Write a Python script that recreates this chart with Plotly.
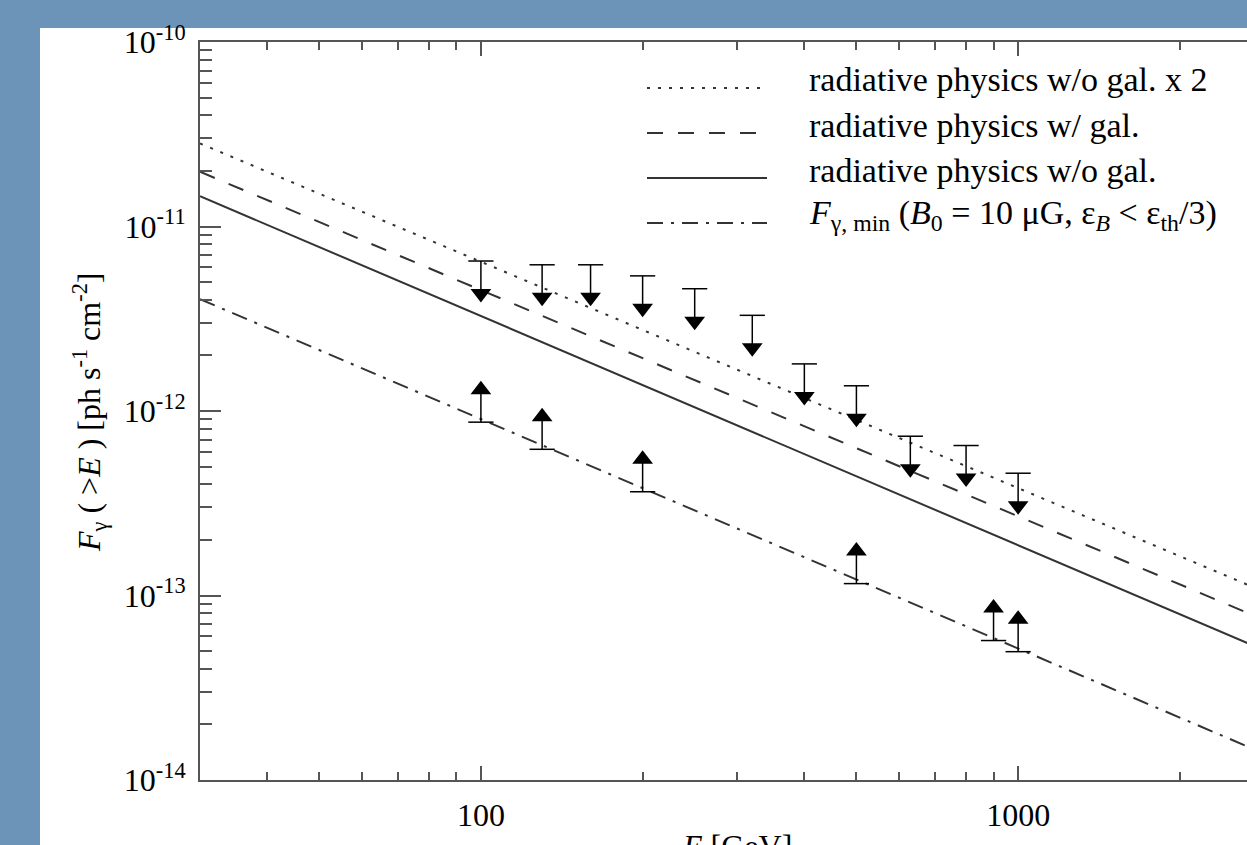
import math
import plotly.graph_objects as go

# ---------------- data ----------------
E_line = [30, 2700]                      # GeV, straight power laws in log-log
F_wo_gal_x2 = [2.82e-11, 1.13e-13]       # dotted
F_w_gal = [1.98e-11, 7.95e-14]           # dashed
F_wo_gal = [1.46e-11, 5.45e-14]          # solid
F_min = [4.04e-12, 1.50e-14]             # dash-dot

series_names = [
    "radiative physics w/o gal. x 2",
    "radiative physics w/ gal.",
    "radiative physics w/o gal.",
    "<i>F</i><sub>γ, min</sub> (<i>B</i><sub>0</sub> = 10 μG, ε<sub><i>B</i></sub> &lt; ε<sub>th</sub>/3)",
]

E_upper = [100, 130, 160, 200, 250, 320, 400, 500, 630, 800, 1000]
F_upper = [6.5e-12, 6.2e-12, 6.2e-12, 5.4e-12, 4.6e-12, 3.3e-12,
           1.8e-12, 1.37e-12, 7.3e-13, 6.5e-13, 4.6e-13]

E_lower = [100, 130, 200, 500, 900, 1000]
F_lower = [8.7e-13, 6.2e-13, 3.65e-13, 1.16e-13, 5.7e-14, 4.96e-14]

x_tickvals = [100, 1000]
x_ticktext = ["100", "1000"]
y_tickvals = [1e-14, 1e-13, 1e-12, 1e-11, 1e-10]
y_ticktext = ["10<sup>-14</sup>", "10<sup>-13</sup>", "10<sup>-12</sup>",
              "10<sup>-11</sup>", "10<sup>-10</sup>"]

x_title = "<i>E</i> [GeV]"
y_title = "<i>F</i><sub>γ</sub> ( &gt;<i>E</i> ) [ph s<sup>-1</sup> cm<sup>-2</sup>]"

# ---------------- styling ----------------
FONT = "Liberation Serif, Times New Roman, serif"
LINE_COL = "#333333"
AX_COL = "#555555"
BLUE = "#6c93b8"
ARROW = 1.5          # arrow stem length as a flux factor (style)

W, H = 1247, 845
L, R, T, B = 200, 0, 42, 65
PW, PH = W - L - R, H - T - B


def px_x(p):
    return (p - L) / PW


def px_y(p):
    return (H - B - p) / PH


fig = go.Figure()

line_specs = [
    (F_wo_gal_x2, "3px,8px"),
    (F_w_gal, "16px,15px"),
    (F_wo_gal, "solid"),
    (F_min, "16px,8px,3px,8px"),
]
for (vals, dash), name in zip(line_specs, series_names):
    fig.add_trace(go.Scatter(
        x=E_line, y=vals, mode="lines", name=name, showlegend=False,
        line=dict(color=LINE_COL, width=2, dash=dash), hoverinfo="skip"))


def arrows(E, F, down):
    sx, sy, hy = [], [], []
    for e, f in zip(E, F):
        end = f / ARROW if down else f * ARROW
        sx += [e, e, None]
        sy += [f, end, None]
        hy.append(end)
    fig.add_trace(go.Scatter(x=sx, y=sy, mode="lines", showlegend=False,
                             line=dict(color="black", width=1.5), hoverinfo="skip"))
    fig.add_trace(go.Scatter(x=E, y=F, mode="markers", showlegend=False,
                             marker=dict(symbol="line-ew", size=18,
                                         line=dict(color="black", width=1.5))))
    fig.add_trace(go.Scatter(x=E, y=hy, mode="markers", showlegend=False,
                             marker=dict(symbol="triangle-down" if down else "triangle-up",
                                         size=18, color="black", line=dict(width=0))))


arrows(E_upper, F_upper, True)
arrows(E_lower, F_lower, False)

# minor tick positions (2..9 per decade)
x_minor = [m * 10 ** d for d in range(1, 4) for m in range(2, 10)]
y_minor = [m * 10.0 ** d for d in range(-14, -10) for m in range(2, 10)]

tickfont = dict(family=FONT, size=32, color="black")

fig.update_xaxes(
    type="log", range=[math.log10(30), math.log10(2667)],
    tickmode="array", tickvals=x_tickvals, ticktext=x_ticktext,
    ticks="inside", ticklen=14, tickwidth=1.5, tickcolor=AX_COL,
    showline=True, linecolor=AX_COL, linewidth=2, mirror="ticks",
    showgrid=False, zeroline=False, tickfont=tickfont, ticklabelstandoff=6,
    minor=dict(tickmode="array", tickvals=x_minor, ticks="inside", ticklen=8,
               tickwidth=1.5, tickcolor=AX_COL, showgrid=False),
)
fig.update_yaxes(
    type="log", range=[-14, -10],
    tickmode="array", tickvals=y_tickvals, ticktext=y_ticktext,
    ticks="inside", ticklen=21, tickwidth=1.5, tickcolor=AX_COL,
    showline=True, linecolor=AX_COL, linewidth=2, mirror=False,
    showgrid=False, zeroline=False, tickfont=tickfont, ticklabelstandoff=6,
    minor=dict(tickmode="array", tickvals=y_minor, ticks="inside", ticklen=12,
               tickwidth=1.5, tickcolor=AX_COL, showgrid=False),
)

shapes = [dict(type="rect", xref="paper", yref="paper",
               x0=px_x(40), x1=px_x(W + 20), y0=px_y(H + 20), y1=px_y(28),
               fillcolor="white", line=dict(width=0), layer="below")]

annotations = []
leg_line_y = [88, 133, 178, 223]
leg_text_y = [80, 125, 170, 215]
for (vals, dash), name, ly, ty in zip(line_specs, series_names, leg_line_y, leg_text_y):
    shapes.append(dict(type="line", xref="paper", yref="paper",
                       x0=px_x(647), x1=px_x(767), y0=px_y(ly), y1=px_y(ly),
                       line=dict(color=LINE_COL, width=2, dash=dash)))
    annotations.append(dict(xref="paper", yref="paper", x=px_x(807), y=px_y(ty),
                            xanchor="left", yanchor="middle", showarrow=False,
                            text=name, font=dict(family=FONT, size=34, color="black")))

annotations.append(dict(xref="paper", yref="paper", x=px_x(737), y=px_y(826),
                        xanchor="center", yanchor="top", showarrow=False,
                        text=x_title, font=dict(family=FONT, size=32, color="black")))
annotations.append(dict(xref="paper", yref="paper", x=px_x(90), y=px_y(412),
                        xanchor="center", yanchor="middle", showarrow=False, textangle=-90,
                        text=y_title, font=dict(family=FONT, size=32, color="black")))

fig.update_layout(
    width=W, height=H, margin=dict(l=L, r=R, t=T, b=B, autoexpand=False),
    paper_bgcolor=BLUE, plot_bgcolor="white", showlegend=False,
    shapes=shapes, annotations=annotations, font=dict(family=FONT),
)

fig.write_html("out.html", config={"displayModeBar": False},
               post_script="document.body.style.margin='0px';document.body.style.overflow='hidden';")
